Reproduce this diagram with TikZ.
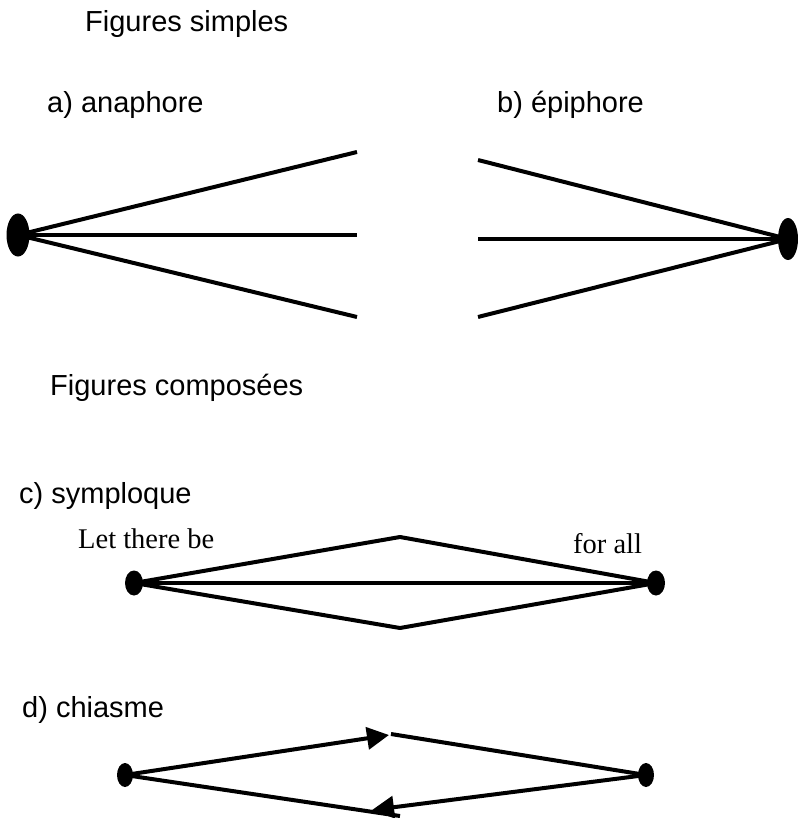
\documentclass[tikz,border=0pt]{standalone}
\usepackage{fontspec}
\setmainfont{Liberation Sans}
\newfontfamily\labelfont{Liberation Serif}
\usetikzlibrary{arrows.meta, shapes.geometric}

\tikzset{
    title/.style={anchor=base west, inner sep=0pt, font=\fontsize{29}{35}\selectfont},
    wordlabel/.style={anchor=base west, inner sep=0pt, font=\labelfont\fontsize{28.5}{34}\selectfont},
    dot/.style={ellipse, fill=black, inner sep=0pt},
    stroke/.style={line width=4pt},
    tip/.style={-{Triangle[length=22pt, width=22pt]}}
}

\begin{document}
\begin{tikzpicture}[x=1pt, y=-1pt]
    % Frame
    \useasboundingbox (0,0) rectangle (797,818);
    % Titles
    \node[title] (simples) at (85,32) {Figures simples};
    \node[title] (ana-t) at (47,113) {a) anaphore};
    \node[title] (epi-t) at (497,113) {b) épiphore};
    \node[title] (composees) at (50,395) {Figures composées};
    \node[title] (sym-t) at (19,503) {c) symploque};
    \node[title] (chi-t) at (22,717) {d) chiasme};

    % Anaphore
    \node[dot, minimum width=23pt, minimum height=43pt] (ana) at (18,235) {};
    \foreach \y [count=\i] in {152,235,317}
    {
        \coordinate (a\i) at (357,\y);
        \draw[stroke] (ana.center) -- (a\i);
    }

    % Epiphore
    \node[dot, minimum width=20pt, minimum height=42pt] (epi) at (788,239) {};
    \foreach \y [count=\i] in {160,239,317}
    {
        \coordinate (e\i) at (478,\y);
        \draw[stroke] (e\i) -- (epi.center);
    }

    % Symploque
    \node[wordlabel] (let) at (78,548) {Let there be};
    \node[wordlabel] (forall) at (573,553) {for all};
    \node[dot, minimum width=18pt, minimum height=25pt] (s1) at (134,583) {};
    \node[dot, minimum width=18pt, minimum height=25pt] (s2) at (656,583) {};
    \coordinate (stop) at (400,537);
    \coordinate (sbot) at (400,628);
    \draw[stroke, line join=round] (s1.center) -- (stop) -- (s2.center);
    \draw[stroke] (s1.center) -- (s2.center);
    \draw[stroke, line join=round] (s1.center) -- (sbot) -- (s2.center);

    % Chiasme
    \node[dot, minimum width=16pt, minimum height=24pt] (c1) at (125,775) {};
    \node[dot, minimum width=16pt, minimum height=24pt] (c2) at (646,775) {};
    \coordinate (ctop) at (389,735);
    \coordinate (ctop2) at (391,734);
    \coordinate (cbot) at (372,810);
    \coordinate (cbot2) at (400,816);
    \draw[stroke, tip] (c1.center) -- (ctop);
    \draw[stroke] (ctop2) -- (c2.center);
    \draw[stroke, tip] (c2.center) -- (cbot);
    \draw[stroke] (c1.center) -- (cbot2);
\end{tikzpicture}
\end{document}
